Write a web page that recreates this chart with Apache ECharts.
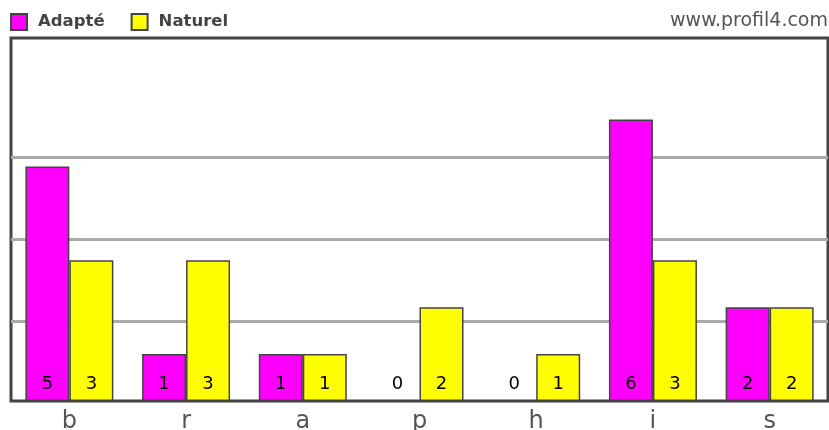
<!DOCTYPE html>
<html>
<head>
<meta charset="utf-8">
<script src="https://cdn.jsdelivr.net/npm/echarts@6/dist/echarts.min.js"></script>
<style>
  html, body { margin: 0; padding: 0; background: #fff; }
  #chart { width: 829px; height: 430px; }
</style>
</head>
<body>
<div id="chart"></div>
<script>
// Letter categories and the two score series
const categories = ['b', 'r', 'a', 'p', 'h', 'i', 's'];
const adapte = [5, 1, 1, 0, 0, 6, 2];
const naturel = [3, 3, 1, 2, 1, 3, 2];
// Horizontal reference lines (in value units) and the top of the value scale
const gridLevels = [1.712, 3.454, 5.196];
const valueMax = 7.74;

const chart = echarts.init(document.getElementById('chart'), null, { renderer: 'canvas' });

const barLabel = {
  show: true,
  position: 'insideBottom',
  distance: 8,
  color: '#000',
  fontFamily: 'DejaVu Sans',
  fontSize: 18
};

chart.setOption({
  animation: false,
  backgroundColor: '#fff',
  title: {
    text: 'www.profil4.com',
    right: 1,
    top: 12,
    padding: 0,
    textStyle: {
      color: '#555',
      fontFamily: 'DejaVu Sans',
      fontWeight: 'normal',
      fontSize: 19
    }
  },
  legend: {
    left: 10,
    top: 13,
    padding: 0,
    itemWidth: 16,
    itemHeight: 16,
    itemGap: 26,
    icon: 'rect',
    itemStyle: { borderColor: '#444', borderWidth: 2 },
    textStyle: {
      color: '#444',
      fontFamily: 'DejaVu Sans',
      fontWeight: 'bold',
      fontSize: 16.5,
      padding: [2, 0, 0, 6]
    },
    data: ['Adapté', 'Naturel']
  },
  grid: {
    left: 11,
    right: 1,
    top: 38,
    bottom: 29,
    containLabel: false,
    outerBoundsMode: 'none',
    show: true,
    borderColor: '#444',
    borderWidth: 3,
    backgroundColor: 'transparent'
  },
  xAxis: {
    type: 'category',
    data: categories,
    axisLine: { show: false },
    axisTick: { show: false },
    splitLine: { show: false },
    axisLabel: {
      color: '#555',
      fontFamily: 'DejaVu Sans',
      fontSize: 24,
      margin: 9
    }
  },
  yAxis: {
    type: 'value',
    min: 0,
    max: valueMax,
    show: false,
    splitLine: { show: false }
  },
  series: [
    {
      name: 'Adapté',
      type: 'bar',
      data: adapte,
      barWidth: 44,
      barGap: '0%',
      z: 2,
      itemStyle: { color: '#ff00ff', borderColor: '#444', borderWidth: 1.5 },
      label: barLabel,
      markLine: {
        silent: true,
        z: 1,
        symbol: ['none', 'none'],
        label: { show: false },
        lineStyle: { color: '#aaa', width: 3, type: 'solid' },
        emphasis: { disabled: true },
        data: gridLevels.map(v => ({ yAxis: v }))
      }
    },
    {
      name: 'Naturel',
      type: 'bar',
      data: naturel,
      barWidth: 44,
      barGap: '0%',
      z: 2,
      itemStyle: { color: '#ffff00', borderColor: '#444', borderWidth: 1.5 },
      label: barLabel
    }
  ]
});
</script>
</body>
</html>
